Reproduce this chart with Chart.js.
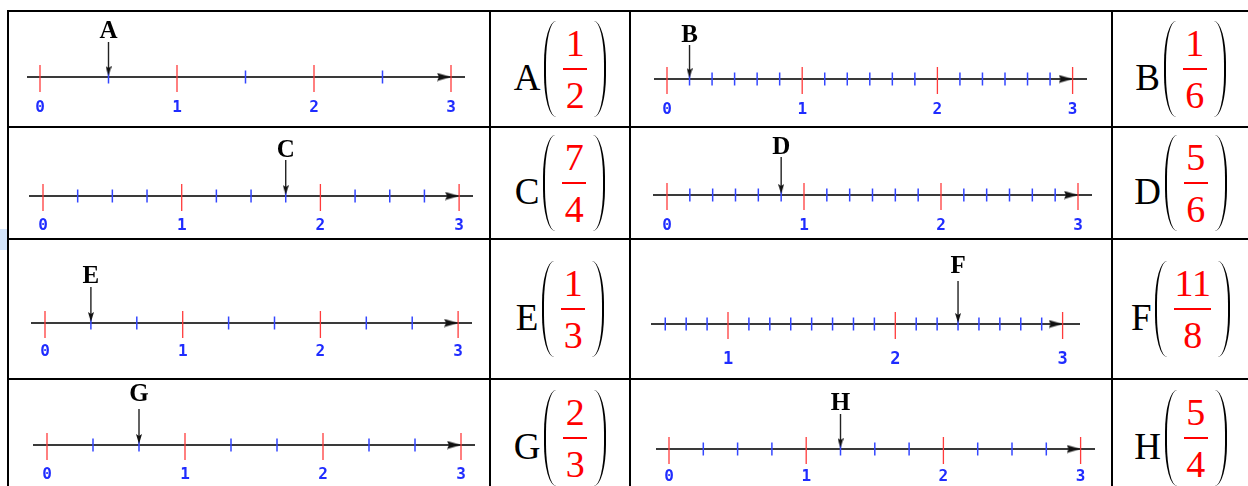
<!DOCTYPE html>
<html>
<head>
<meta charset="utf-8">
<script src="https://cdn.jsdelivr.net/npm/chart.js@4.4.1/dist/chart.umd.min.js"></script>
<style>
  html, body { margin: 0; padding: 0; background: #fff; }
  #page { position: relative; width: 1248px; height: 486px; overflow: hidden; background: #fff; }
  .hline, .vline { position: absolute; background: #000; }
  canvas { position: absolute; }
  .frac-cell {
    position: absolute; display: flex; align-items: center; justify-content: center;
    font-family: "Liberation Serif", "Times New Roman", serif;
  }
  .frac-cell .letter { font-size: 37px; line-height: 1; margin-right: 4px; margin-top: 16px; }
  .paren { width: 12px; height: 96px; box-sizing: border-box; }
  .paren.l { border-left: 2px solid #000; border-radius: 12px 0 0 12px / 42px 0 0 42px; }
  .paren.r { border-right: 2px solid #000; border-radius: 0 12px 12px 0 / 0 42px 42px 0; }
  .frac { display: flex; flex-direction: column; align-items: center; color: #f00; margin: 0 7px; }
  .frac .num, .frac .den { font-size: 38px; line-height: 36px; }
  .frac .num { margin-bottom: 7px; }
  .frac .den { margin-top: 7px; }
  .frac .bar { height: 2px; background: #f00; align-self: stretch; min-width: 24px; }
</style>
</head>
<body>
<div id="page"></div>
<script>
// ---------------- DATA ----------------
const pointNames   = ['A', 'B', 'C', 'D', 'E', 'F', 'G', 'H'];
const pointValues  = [1/2, 1/6, 7/4, 5/6, 1/3, 19/8, 2/3, 5/4];   // where each arrow points
const divisions    = [2, 6, 4, 6, 3, 8, 3, 4];                    // parts per unit
const firstMinor   = [1, 1, 1, 1, 1, 5, 1, 1];                    // first small tick (in parts)
const majorTicks   = [[0,1,2,3],[0,1,2,3],[0,1,2,3],[0,1,2,3],[0,1,2,3],[1,2,3],[0,1,2,3],[0,1,2,3]];
const lastValue    = 3;
const numerators   = ['1', '1', '7', '5', '1', '11', '2', '5'];
const denominators = ['2', '6', '4', '6', '3', '8', '3', '4'];

// ---------------- LAYOUT (px on the page) ----------------
const rows = [
  { top: 12,  h: 114 },
  { top: 128, h: 110 },
  { top: 240, h: 138 },
  { top: 380, h: 106 }
];
const lineLeft = [9, 631];
const lineWidth = 480;
const fracCols = [{ left: 491, w: 138 }, { left: 1113, w: 135 }];

// zero, unit, axis start/end, axis y, letter baseline, pointer top, label gap
const geom = [
  { zero: 40,    unit: 137,   from: 27,  to: 465,  y: 77,  base: 38,  ptr: 42,  gap: 31 },
  { zero: 667,   unit: 135.2, from: 654, to: 1087, y: 79,  base: 42,  ptr: 45,  gap: 31 },
  { zero: 43,    unit: 138.7, from: 29,  to: 473,  y: 196, base: 157, ptr: 160, gap: 30 },
  { zero: 667,   unit: 137,   from: 653, to: 1092, y: 195, base: 154, ptr: 157, gap: 31 },
  { zero: 45,    unit: 137.7, from: 31,  to: 472,  y: 323, base: 283, ptr: 287, gap: 29 },
  { zero: 560.7, unit: 167.3, from: 651, to: 1080, y: 324, base: 273, ptr: 281, gap: 35 },
  { zero: 47,    unit: 138,   from: 33,  to: 475,  y: 445, base: 401, ptr: 409, gap: 30 },
  { zero: 669,   unit: 137.2, from: 656, to: 1095, y: 449, base: 410, ptr: 414, gap: 28 }
];

const page = document.getElementById('page');

// ---------------- TABLE GRID ----------------
function addLine(cls, l, t, w, h) {
  const d = document.createElement('div');
  d.className = cls;
  Object.assign(d.style, { left: l + 'px', top: t + 'px', width: w + 'px', height: h + 'px' });
  page.appendChild(d);
}
[10, 126, 238, 378].forEach(t => addLine('hline', 7, t, 1241, 2));
[7, 489, 629, 1111].forEach(l => addLine('vline', l, 10, 2, 476));

const patch = document.createElement('div');
Object.assign(patch.style, { position: 'absolute', left: '0px', top: '229px', width: '7px', height: '21px', background: '#d3e4fa' });
page.appendChild(patch);

// ---------------- ARROW SPRITES ----------------
function sprite(w, h, draw) {
  const c = document.createElement('canvas');
  c.width = w; c.height = h;
  const g = c.getContext('2d');
  g.fillStyle = '#111';
  g.beginPath(); draw(g); g.closePath(); g.fill();
  return c;
}
const arrowRight = sprite(14, 9, g => { g.moveTo(0, 0.5); g.lineTo(14, 4.5); g.lineTo(0, 8.5); g.lineTo(2, 4.5); });
const arrowDown  = sprite(6, 10, g => { g.moveTo(0, 0); g.lineTo(3, 10); g.lineTo(6, 0); g.lineTo(3, 2); });

// ---------------- NUMBER LINES ----------------
const letterPlugin = {
  id: 'pointLetter',
  afterDatasetsDraw(chart, args, opts) {
    const ctx = chart.ctx;
    const x = chart.scales.x.getPixelForValue(opts.value);
    ctx.save();
    ctx.font = 'bold 25px "Liberation Serif", serif';
    ctx.fillStyle = '#000';
    ctx.textAlign = 'center';
    ctx.textBaseline = 'alphabetic';
    ctx.fillText(opts.text, x, opts.y);
    ctx.restore();
  }
};

pointNames.forEach((name, i) => {
  const row = rows[Math.floor(i / 2)];
  const left = lineLeft[i % 2];
  const g = geom[i];
  const zeroLocal = g.zero - left;
  const axisY = g.y - row.top;
  const areaH = axisY + 17;
  const px = v => v / g.unit;            // pixel length -> value length

  const cv = document.createElement('canvas');
  cv.width = lineWidth; cv.height = row.h;
  cv.style.left = left + 'px'; cv.style.top = row.top + 'px';
  page.appendChild(cv);

  const minor = [];
  for (let k = firstMinor[i]; k < lastValue * divisions[i]; k++) {
    if (k % divisions[i] !== 0) minor.push({ x: k / divisions[i], y: axisY });
  }
  const major = majorTicks[i].map(v => ({ x: v, y: axisY + 1.5 }));
  const val = pointValues[i];

  new Chart(cv, {
    type: 'scatter',
    data: {
      datasets: [
        { type: 'line', data: [{ x: px(g.from - g.zero), y: axisY }, { x: px(g.to - g.zero), y: axisY }],
          borderColor: '#3a3a3a', borderWidth: 2, pointRadius: 0, order: 3 },
        { data: minor, pointStyle: 'line', rotation: 90, pointRadius: 6.5,
          borderColor: '#3346ff', borderWidth: 1.5, order: 2 },
        { data: major, pointStyle: 'line', rotation: 90, pointRadius: 13.5,
          borderColor: '#ff3b3b', borderWidth: 1.3, order: 2 },
        { data: [{ x: lastValue - px(7), y: axisY }], pointStyle: arrowRight, order: 1 },
        { type: 'line', data: [{ x: val, y: g.ptr - row.top }, { x: val, y: axisY - 6 }],
          borderColor: '#222', borderWidth: 1.4, pointRadius: 0, order: 1 },
        { data: [{ x: val, y: axisY - 6 }], pointStyle: arrowDown, order: 0 }
      ]
    },
    options: {
      responsive: false,
      animation: false,
      events: [],
      layout: { padding: 0, autoPadding: false },
      clip: false,
      plugins: {
        legend: { display: false },
        tooltip: { enabled: false },
        pointLetter: { value: val, text: name, y: g.base - row.top }
      },
      scales: {
        x: {
          type: 'linear',
          min: -zeroLocal / g.unit,
          max: (lineWidth - zeroLocal) / g.unit,
          grid: { display: false, drawTicks: false },
          border: { display: false },
          afterBuildTicks: s => { s.ticks = majorTicks[i].map(v => ({ value: v })); },
          afterFit: s => { s.height = row.h - areaH; s.paddingLeft = 0; s.paddingRight = 0; },
          ticks: {
            autoSkip: false, maxRotation: 0,
            padding: g.gap - 17 - 10,
            color: '#1f2cff',
            font: { family: '"DejaVu Sans Mono", monospace', weight: 'bold', size: i === 5 ? 17 : 16 },
            callback: v => String(v)
          }
        },
        y: { type: 'linear', display: false, reverse: true, min: 0, max: areaH }
      }
    },
    plugins: [letterPlugin]
  });
});

// ---------------- ANSWER CELLS ----------------
pointNames.forEach((name, i) => {
  const row = rows[Math.floor(i / 2)];
  const col = fracCols[i % 2];
  const cell = document.createElement('div');
  cell.className = 'frac-cell';
  Object.assign(cell.style, { left: col.left + 'px', top: row.top + 'px', width: col.w + 'px', height: (i < 6 ? row.h : 116) + 'px' });
  cell.innerHTML = `
    <span class="letter">${name}</span>
    <div class="paren l"></div>
    <div class="frac"><span class="num">${numerators[i]}</span><div class="bar"></div><span class="den">${denominators[i]}</span></div>
    <div class="paren r"></div>`;
  page.appendChild(cell);
});
</script>
</body>
</html>
